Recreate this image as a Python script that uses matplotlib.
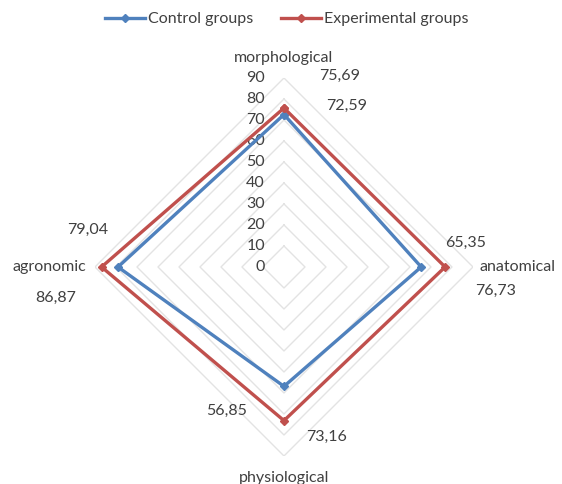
import numpy as np
import matplotlib.pyplot as plt

plt.rcParams['font.family'] = ['Lato', 'DejaVu Sans']

categories = ["morphological", "anatomical", "physiological", "agronomic"]
control = [72.59, 65.35, 56.85, 79.04]
experimental = [75.69, 76.73, 73.16, 86.87]
control_lbl = ["72,59", "65,35", "56,85", "79,04"]
exp_lbl = ["75,69", "76,73", "73,16", "86,87"]
levels = [0, 10, 20, 30, 40, 50, 60, 70, 80, 90]

blue = "#4F81BD"
red = "#C0504D"
txt = "#404040"
fs = 11.5

theta = np.arange(len(categories)) * 2 * np.pi / len(categories)
closed = np.append(theta, theta[0])

fig = plt.figure(figsize=(5.62, 4.84), dpi=100)
ax = fig.add_axes([0.169, 0.0579, 0.6726, 0.781], projection="polar")
ax.set_theta_offset(np.pi / 2)
ax.set_theta_direction(-1)
ax.set_ylim(0, 90)
ax.grid(False)
ax.spines["polar"].set_visible(False)
ax.set_xticks([])
ax.set_yticks([])
ax.patch.set_alpha(0)

# polygon grid only (no spokes in the original)
for r in levels[1:]:
    ax.plot(closed, [r] * len(closed), color="#E3E3E3", lw=1.0, zorder=1)

for r in levels:
    ax.annotate(str(r), xy=(0, r), xytext=(-19, 0), textcoords="offset pixels",
                ha="right", va="center", fontsize=fs, color=txt)

ax.plot(closed, np.append(control, control[0]), color=blue, lw=2.4,
        marker="D", ms=4, label="Control groups", zorder=3)
ax.plot(closed, np.append(experimental, experimental[0]), color=red, lw=2.4,
        marker="D", ms=4, label="Experimental groups", zorder=3)

# category labels
cat_off = [(0, 20, "center", "center"), (7, 0, "left", "center"),
           (0, -22, "center", "center"), (-9, 0, "right", "center")]
for t, name, (dx, dy, ha, va) in zip(theta, categories, cat_off):
    ax.annotate(name, xy=(t, 90), xytext=(dx, dy), textcoords="offset pixels",
                ha=ha, va=va, fontsize=fs, color=txt)

# data labels (manually placed like the original)
c_off = [(63, 9), (44, 24), (-57, -25), (-30, 37)]
e_off = [(56, 32), (50, -24), (43, -16), (-46, -31)]
for t, v, s, (dx, dy) in zip(theta, control, control_lbl, c_off):
    ax.annotate(s, xy=(t, v), xytext=(dx, dy), textcoords="offset pixels",
                ha="center", va="center", fontsize=fs, color=txt)
for t, v, s, (dx, dy) in zip(theta, experimental, exp_lbl, e_off):
    ax.annotate(s, xy=(t, v), xytext=(dx, dy), textcoords="offset pixels",
                ha="center", va="center", fontsize=fs, color=txt)

leg = fig.legend(loc="upper center", bbox_to_anchor=(0.51, 1.005), ncol=2,
                 frameon=False, fontsize=fs, handlelength=2.5,
                 columnspacing=1.75, handletextpad=0.2)
for t in leg.get_texts():
    t.set_color(txt)

fig.savefig("out.png", dpi=100)
